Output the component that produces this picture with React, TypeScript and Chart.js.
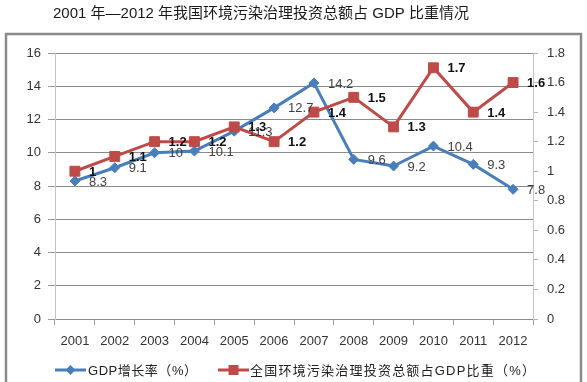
import React, { useEffect, useRef } from "react";
import { Chart, registerables } from "chart.js";

Chart.register(...registerables);

const TITLE = "2001 年—2012 年我国环境污染治理投资总额占 GDP 比重情况";
const YEARS = ["2001", "2002", "2003", "2004", "2005", "2006", "2007", "2008", "2009", "2010", "2011", "2012"];
const GDP_GROWTH = [8.3, 9.1, 10, 10.1, 11.3, 12.7, 14.2, 9.6, 9.2, 10.4, 9.3, 7.8];
const ENV_SHARE = [1, 1.1, 1.2, 1.2, 1.3, 1.2, 1.4, 1.5, 1.3, 1.7, 1.4, 1.6];
const LEGEND_GDP = "GDP增长率（%）";
const LEGEND_ENV = "全国环境污染治理投资总额占GDP比重（%）";

const BLUE = "#4A7EBB";
const RED = "#BE4B48";
const FONT = "'Liberation Sans', Arial, 'Noto Sans CJK SC', sans-serif";
const CJK_FONT = "'Liberation Sans', 'Noto Sans CJK SC', sans-serif";

const fmt = (v: number) => String(Math.round(v * 10) / 10);

const decorPlugin = {
  id: "decor",
  beforeDraw(chart: any) {
    const ctx = chart.ctx;
    ctx.save();
    ctx.fillStyle = "#ffffff";
    ctx.fillRect(0, 0, chart.width, chart.height);
    ctx.strokeStyle = "#8a8a8a";
    ctx.lineWidth = 2.5;
    ctx.strokeRect(6, 34, 575, 370);
    ctx.fillStyle = "#1a1a1a";
    ctx.font = "15px " + CJK_FONT;
    ctx.textBaseline = "middle";
    ctx.textAlign = "left";
    ctx.fillText(TITLE, 53, 14);
    ctx.restore();
  },
  afterDatasetsDraw(chart: any) {
    const ctx = chart.ctx;
    ctx.save();
    ctx.textBaseline = "middle";
    ctx.textAlign = "left";
    chart.data.datasets.forEach((ds: any, i: number) => {
      const meta = chart.getDatasetMeta(i);
      meta.data.forEach((el: any, j: number) => {
        if (i === 0) {
          ctx.font = "13px " + FONT;
          ctx.fillStyle = "#404040";
        } else {
          ctx.font = "bold 13px " + FONT;
          ctx.fillStyle = "#111111";
        }
        ctx.fillText(fmt(ds.data[j]), el.x + 14, el.y + 1);
      });
    });
    // legend
    const ly = 370;
    const drawItem = (x0: number, color: string, style: string, text: string, tx: number, targetW: number) => {
      ctx.strokeStyle = color;
      ctx.lineWidth = 3;
      ctx.beginPath();
      ctx.moveTo(x0, ly);
      ctx.lineTo(x0 + 31, ly);
      ctx.stroke();
      ctx.fillStyle = color;
      const cx = x0 + 15.5;
      ctx.beginPath();
      if (style === "diamond") {
        ctx.moveTo(cx, ly - 5);
        ctx.lineTo(cx + 5, ly);
        ctx.lineTo(cx, ly + 5);
        ctx.lineTo(cx - 5, ly);
        ctx.closePath();
      } else {
        ctx.rect(cx - 5, ly - 5, 10, 10);
      }
      ctx.fill();
      ctx.font = "13px " + CJK_FONT;
      ctx.fillStyle = "#222222";
      const chars = Array.from(text);
      const natural = ctx.measureText(text).width;
      const extra = chars.length > 1 ? (targetW - natural) / (chars.length - 1) : 0;
      let x = tx;
      chars.forEach((c) => {
        ctx.fillText(c, x, ly + 1);
        x += ctx.measureText(c).width + extra;
      });
    };
    drawItem(55, BLUE, "diamond", LEGEND_GDP, 88, 109);
    drawItem(218, RED, "rect", LEGEND_ENV, 250, 285);
    ctx.restore();
  },
};

export default function App() {
  const ref = useRef<HTMLCanvasElement | null>(null);
  useEffect(() => {
    if (!ref.current) return;
    const chart = new Chart(ref.current, {
      type: "line",
      data: {
        labels: YEARS,
        datasets: [
          {
            label: LEGEND_GDP,
            data: GDP_GROWTH,
            yAxisID: "y",
            borderColor: BLUE,
            backgroundColor: BLUE,
            borderWidth: 3,
            pointStyle: "rectRot",
            pointRadius: 5,
            pointBorderWidth: 1,
            tension: 0,
            order: 1,
          },
          {
            label: LEGEND_ENV,
            data: ENV_SHARE,
            yAxisID: "y1",
            borderColor: RED,
            backgroundColor: RED,
            borderWidth: 3,
            pointStyle: "rect",
            pointRadius: 7,
            pointBorderWidth: 1,
            tension: 0,
            order: 0,
          },
        ],
      },
      options: {
        responsive: false,
        animation: false,
        devicePixelRatio: 1,
        layout: { padding: { left: 10, right: 4, top: 53, bottom: 23 } },
        plugins: {
          legend: { display: false },
          tooltip: { enabled: false },
          title: { display: false },
        },
        scales: {
          x: {
            offset: true,
            grid: {
              offset: true,
              drawOnChartArea: false,
              tickLength: 6,
              color: "#9a9a9a",
            },
            border: { color: "#8a8a8a" },
            ticks: {
              padding: 9,
              font: { family: FONT, size: 13 },
              color: "#333333",
              maxRotation: 0,
              autoSkip: false,
            },
            afterFit: (s: any) => {
              s.height = 40;
            },
          },
          y: {
            position: "left",
            min: 0,
            max: 16,
            ticks: {
              stepSize: 2,
              padding: 7,
              font: { family: FONT, size: 13 },
              color: "#333333",
            },
            grid: { color: "#8a8a8a", tickLength: 7, tickColor: "#9a9a9a" },
            border: { color: "#c4c4c4" },
            afterFit: (s: any) => {
              s.width = 45;
            },
          },
          y1: {
            position: "right",
            min: 0,
            max: 1.8,
            ticks: {
              stepSize: 0.2,
              padding: 9,
              font: { family: FONT, size: 13 },
              color: "#333333",
              callback: (v: any) => fmt(Number(v)),
            },
            grid: { drawOnChartArea: false, tickLength: 5, color: "#b4b4b4" },
            border: { color: "#c4c4c4" },
            afterFit: (s: any) => {
              s.width = 50;
            },
          },
        },
      },
      plugins: [decorPlugin],
    });
    return () => chart.destroy();
  }, []);
  return (
    <div style={{ position: "absolute", left: 0, top: 0, width: 587, height: 382 }}>
      <canvas ref={ref} width={587} height={382} style={{ display: "block" }} />
    </div>
  );
}
